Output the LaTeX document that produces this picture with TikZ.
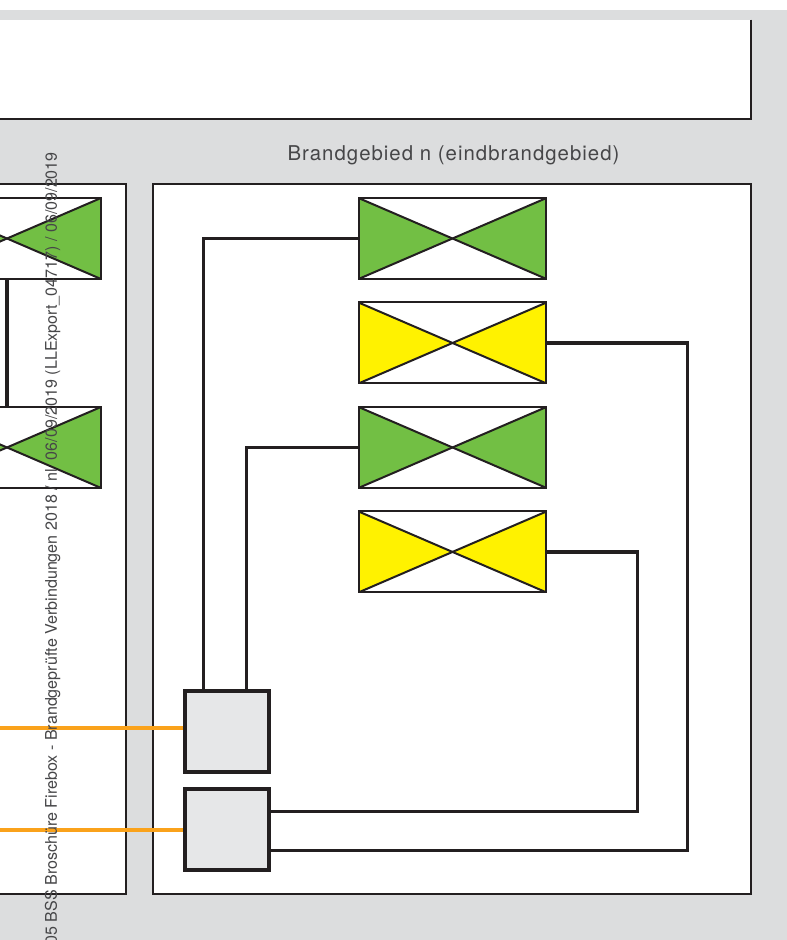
\documentclass[tikz,border=0pt]{standalone}
\usepackage{fontspec}
\setmainfont{TeX Gyre Heros}
\newfontfamily\spacedfont[LetterSpace=5]{TeX Gyre Heros}
\usetikzlibrary{positioning}
\definecolor{bggray}{RGB}{220,221,222}
\definecolor{boxgray}{RGB}{230,231,232}
\definecolor{linek}{RGB}{35,31,32}
\definecolor{vgreen}{RGB}{114,191,68}
\definecolor{vyellow}{RGB}{255,242,0}
\definecolor{cable}{RGB}{250,162,27}
\definecolor{textgray}{RGB}{70,70,72}
\begin{document}
\begin{tikzpicture}[x=0.02cm, y=-0.02cm]
      \tikzset{ zone/.style ={draw=linek, fill=white, line width=0.034cm, minimum height=14.2cm} }
      \tikzset{ vlv/.style  ={draw=linek, line width=0.04cm, minimum width=3.76cm, minimum height=1.62cm, inner sep=0pt,
                              path picture={
                                \fill[#1] (path picture bounding box.north west) -- (path picture bounding box.center) -- (path picture bounding box.south west) -- cycle;
                                \fill[#1] (path picture bounding box.north east) -- (path picture bounding box.center) -- (path picture bounding box.south east) -- cycle;
                                \draw[linek, line width=0.04cm] (path picture bounding box.north west) -- (path picture bounding box.south east);
                                \draw[linek, line width=0.04cm] (path picture bounding box.south west) -- (path picture bounding box.north east);
                              }} }
      \tikzset{ ctrl/.style ={draw=linek, fill=boxgray, line width=0.08cm, minimum width=1.7cm, minimum height=1.62cm, inner sep=0pt} }
      \tikzset{ wire/.style ={draw=linek, line width=0.07cm} }
      \tikzset{ feed/.style ={draw=cable, line width=0.07cm} }

      \path[use as bounding box, clip] (0,0) rectangle (787,940);
      \fill[white]  (0,0)  rectangle (787,940);
      \fill[bggray] (0,10) rectangle (787,940);

      \node[fill=white, minimum width=15.62cm, minimum height=1.98cm, inner sep=0pt] (top) at (360,69.5) {};
      \draw[linek, line width=0.04cm] (top.north east) -- (top.south east) -- (top.south west);

      \node[text=textgray, font=\spacedfont\fontsize{11.6pt}{13pt}\selectfont] (title) at (453.5,155) {Brandgebied n (eindbrandgebied)};

      \node[zone, minimum width=3.2cm ] (zl) at (46,539)  {};
      \node[zone, minimum width=11.96cm] (zr) at (452,539) {};

      \node[vlv=vgreen] (l1) at (7,238.5) {};
      \node[vlv=vgreen, below=2.52cm of l1] (l2) {};

      \node[vlv=vgreen]                     (v1) at (452.5,238.5) {};
      \node[vlv=vyellow, below=0.43cm of v1] (v2) {};
      \node[vlv=vgreen,  below=0.43cm of v2] (v3) {};
      \node[vlv=vyellow, below=0.43cm of v3] (v4) {};

      \node[ctrl] (m1) at (227,731) {};
      \node[ctrl, below=0.28cm of m1] (m2) {};

      \coordinate (o1) at (-5,728);
      \coordinate (o2) at (-5,830);

      \draw[wire] (l1) -- (l2);
      \draw[feed] (o1) -- (o1 -| m1.west);
      \draw[feed] (o2) -- (o2 -| m2.west);

      \draw[wire] (v1.west) -| ([xshift=0.42cm]m1.north west);
      \draw[wire] (v3.west) -| ([xshift=1.28cm]m1.north west);
      \draw[wire] (v2.east) -- ++(140,0) |- ([yshift=-0.41cm]m2.east);
      \draw[wire] (v4.east) -- ++(90,0)  |- ([yshift=0.37cm]m2.east);

      \node[text=textgray, rotate=90, anchor=east, font=\fontsize{9.15pt}{10pt}\selectfont] (stamp) at (52.5,146) {05 BSS Broschüre Firebox - Brandgeprüfte Verbindungen 2018 / nl \ 06/09/2019 (LLExport\_04717) / 06/09/2019};
    \end{tikzpicture}
\end{document}
